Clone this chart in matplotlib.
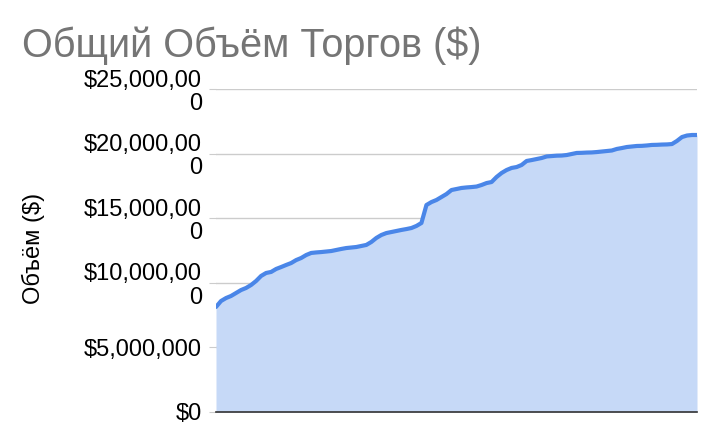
import numpy as np
import matplotlib
matplotlib.use("Agg")
import matplotlib.pyplot as plt
from matplotlib.ticker import FixedLocator

plt.rcParams['font.family'] = ['Liberation Sans', 'DejaVu Sans']

# Cumulative trading volume, millions of dollars, one value per period
volume_m = [
    8.13, 8.59, 8.82, 8.98, 9.21, 9.44, 9.60, 9.83, 10.14, 10.53,
    10.76, 10.84, 11.07, 11.22, 11.38, 11.53, 11.76, 11.92, 12.15, 12.31,
    12.35, 12.38, 12.42, 12.46, 12.54, 12.62, 12.69, 12.73, 12.77, 12.85,
    12.93, 13.16, 13.47, 13.70, 13.85, 13.93, 14.01, 14.09, 14.16, 14.24,
    14.40, 14.63, 16.02, 16.25, 16.41, 16.64, 16.87, 17.18, 17.26, 17.34,
    17.38, 17.41, 17.45, 17.57, 17.72, 17.80, 18.19, 18.50, 18.73, 18.89,
    18.96, 19.12, 19.43, 19.50, 19.58, 19.66, 19.78, 19.81, 19.84, 19.85,
    19.89, 19.97, 20.05, 20.06, 20.08, 20.09, 20.12, 20.16, 20.20, 20.24,
    20.36, 20.43, 20.51, 20.55, 20.59, 20.60, 20.63, 20.67, 20.68, 20.70,
    20.71, 20.74, 20.98, 21.28, 21.40, 21.44, 21.44,
]
tick_values = [0, 5_000_000, 10_000_000, 15_000_000, 20_000_000, 25_000_000]
tick_labels = ["$0", "$5,000,000", "$10,000,00\n0", "$15,000,00\n0",
               "$20,000,00\n0", "$25,000,00\n0"]
title = "Общий Объём Торгов ($)"
ylabel = "Объём ($)"

values = np.array(volume_m) * 1e6
x = np.arange(len(values))

W, H = 718, 438
fig = plt.figure(figsize=(W / 100, H / 100), dpi=100)
ax = fig.add_axes([216 / W, 1 - 412 / H, (697 - 216) / W, (412 - 89) / H])

ax.fill_between(x, values, 0, color="#c6d9f7", linewidth=0, zorder=2)
ax.plot(x, values, color="#4a86e8", linewidth=3.0, solid_capstyle="round",
        solid_joinstyle="round", zorder=3)

ax.set_xlim(x[0], x[-1])
ax.set_ylim(0, 25_000_000)
ax.yaxis.set_major_locator(FixedLocator(tick_values))
ax.set_yticklabels(tick_labels, fontsize=17, linespacing=1.08)
ax.set_xticks([])
ax.grid(axis="y", color="#cccccc", linewidth=1.0, zorder=1)
ax.tick_params(axis="y", length=5, color="#cccccc", pad=5)
for side in ("top", "right", "left"):
    ax.spines[side].set_visible(False)
ax.spines["bottom"].set_color("#333333")
ax.spines["bottom"].set_linewidth(1.2)
ax.spines["bottom"].set_zorder(4)

fig.text(22 / W, 1 - 57 / H, title, fontsize=28.5, color="#757575",
         ha="left", va="baseline")
fig.text(33 / W, 1 - 248 / H, ylabel, fontsize=17, rotation=90,
         ha="center", va="center", color="#000000")

fig.savefig("out.png", dpi=100, facecolor="white")
